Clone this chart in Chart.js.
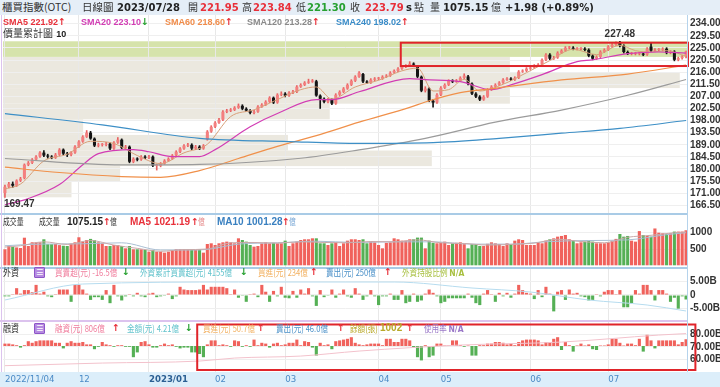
<!DOCTYPE html>
<html><head><meta charset="utf-8">
<script src="https://cdn.jsdelivr.net/npm/chart.js@4.4.0/dist/chart.umd.min.js"></script>
<style>
html,body{margin:0;padding:0;background:#fff}
body{width:720px;height:387px;overflow:hidden;position:relative;font-family:"DejaVu Sans",sans-serif;color:#333}
canvas{position:absolute;left:0;z-index:1}
.t{position:absolute;white-space:nowrap;line-height:12px;font-size:10px;z-index:5}
.cjk{font-family:"Noto Sans CJK TC","Noto Sans CJK SC",sans-serif}
.sx{transform:scaleX(.8);transform-origin:0 0}
.sx7{transform:scaleX(.72);transform-origin:0 0}
.b{font-weight:bold}
.n{font-family:"DejaVu Sans",sans-serif;font-weight:bold}
.s{font-family:"Liberation Sans",Arial,sans-serif;font-weight:bold;font-size:9px}
.L{font-family:"Liberation Sans",Arial,sans-serif;font-weight:bold;font-size:10px}
.A{font-family:"DejaVu Sans",sans-serif;font-weight:bold;font-size:9.5px}
.red{color:#e8303a}.grn{color:#27a030}
.icon{position:absolute;z-index:5;width:9px;height:9px;background:#b58ae0;border:1px solid #8d55c8;color:#fff;font-size:8px;line-height:9px;text-align:center;border-radius:1px}
.line{position:absolute;z-index:4}
</style></head><body>
<div class="line" style="left:0;top:0;width:720px;height:15px;background:#e5eef7;z-index:0"></div>
<div class="t cjk" style="left:2px;top:1px;font-size:10.5px">櫃買指數(OTC)</div>
<div class="t cjk" style="left:82px;top:1px;font-size:10.5px">日線圖</div>
<div class="t n" style="left:117px;top:2px;color:#222">2023/07/28</div>
<div class="t cjk" style="left:188px;top:1px">開</div>
<div class="t n red" style="left:200px;top:2px">221.95</div>
<div class="t cjk" style="left:242px;top:1px">高</div>
<div class="t n red" style="left:253px;top:2px">223.84</div>
<div class="t cjk" style="left:296px;top:1px">低</div>
<div class="t n grn" style="left:307px;top:2px">221.30</div>
<div class="t cjk" style="left:350px;top:1px">收</div>
<div class="t n red" style="left:365px;top:2px">223.79</div>
<div class="t n" style="left:406px;top:2px;color:#222">s</div>
<div class="t cjk" style="left:414px;top:1px">點</div>
<div class="t cjk" style="left:430px;top:1px">量</div>
<div class="t n" style="left:443px;top:2px;color:#222">1075.15</div>
<div class="t cjk" style="left:491px;top:1px">億</div>
<div class="t n" style="left:505px;top:2px;color:#222">+1.98 (+0.89%)</div>

<div class="t s" style="left:3px;top:16px;color:#e8303a">SMA5 221.92<span class="A red">↑</span></div>
<div class="t s" style="left:81px;top:16px;color:#d23cb4">SMA20 223.10<span class="A grn">↓</span></div>
<div class="t s" style="left:165px;top:16px;color:#f08c4a">SMA60 218.60<span class="A red">↑</span></div>
<div class="t s" style="left:247px;top:16px;color:#8a8a8a">SMA120 213.28<span class="A red">↑</span></div>
<div class="t s" style="left:336px;top:16px;color:#3a8cc8">SMA240 198.02<span class="A red">↑</span></div>
<div class="t" style="left:3px;top:27px"><span class="cjk">價量累計圖</span> <span class="s" style="color:#222">10</span></div>

<canvas id="cPrice" width="720" height="198" style="top:15px"></canvas>
<canvas id="cVol" width="720" height="52" style="top:215px"></canvas>
<canvas id="cFor" width="720" height="51" style="top:269px"></canvas>
<canvas id="cMar" width="720" height="65" style="top:322px"></canvas>

<div class="line" style="left:0;top:213px;width:688px;height:2px;background:#a9cbe6"></div>
<div class="line" style="left:0;top:267px;width:688px;height:2px;background:#a9cbe6"></div>
<div class="line" style="left:0;top:320px;width:688px;height:2px;background:#dcc3ee"></div>
<div class="line" style="left:687px;top:15px;width:1px;height:357px;background:#b5d3ec"></div>
<div class="line" style="left:1px;top:15px;width:1px;height:357px;background:#dcc3ee"></div>

<div class="t cjk sx7" style="left:3px;top:215px;font-size:9.5px">成交量</div>
<div class="t cjk sx7" style="left:39px;top:215px;font-size:9.5px">成交量</div>
<div class="t L" style="left:67px;top:216px;color:#222">1075.15</div>
<div class="t A red" style="left:103px;top:216px">↑</div>
<div class="t cjk sx7" style="left:110px;top:215px;font-size:9.5px">億</div>
<div class="t L" style="left:130px;top:216px;color:#e8303a">MA5 1021.19</div>
<div class="t A red" style="left:191px;top:216px">↑</div>
<div class="t cjk sx7" style="left:198px;top:215px;font-size:9.5px;color:#e58a8a">億</div>
<div class="t L" style="left:217px;top:216px;color:#3a80c0">MA10 1001.28</div>
<div class="t A red" style="left:282px;top:216px">↑</div>
<div class="t cjk sx7" style="left:289px;top:215px;font-size:9.5px;color:#7aa8d6">億</div>

<div class="t cjk sx" style="left:3px;top:266px;font-size:10px">外資</div>
<div class="icon" style="left:34px;top:267px">☰</div>
<div class="t cjk sx" style="left:55px;top:266px;color:#f07c9c;font-size:9.5px">買賣超(元) -16.5億</div>
<div class="t A grn" style="left:122px;top:266px">↓</div>
<div class="t cjk sx" style="left:140px;top:266px;color:#62c3cc;font-size:9.5px">外資累計買賣超(元) 4155億</div>
<div class="t A grn" style="left:240px;top:266px">↓</div>
<div class="t cjk sx" style="left:258px;top:266px;color:#f2b060;font-size:9.5px">買進(元) 234億</div>
<div class="t A red" style="left:310px;top:266px">↑</div>
<div class="t cjk sx" style="left:326px;top:266px;color:#4a90c8;font-size:9.5px">賣出(元) 250億</div>
<div class="t A red" style="left:384px;top:266px">↑</div>
<div class="t cjk sx" style="left:402px;top:266px;color:#a8c040;font-size:9.5px">外資持股比例 <span class="n">N/A</span></div>

<div class="t cjk sx" style="left:3px;top:322px;font-size:10px">融資</div>
<div class="icon" style="left:34px;top:323px">☰</div>
<div class="t cjk sx" style="left:55px;top:322px;color:#f07c9c;font-size:9.5px">融資(元) 806億</div>
<div class="t A red" style="left:112px;top:322px">↑</div>
<div class="t cjk sx" style="left:127px;top:322px;color:#62c3cc;font-size:9.5px">金額(元) 4.21億</div>
<div class="t A grn" style="left:185px;top:322px">↓</div>
<div class="t cjk sx" style="left:203px;top:322px;color:#f2b060;font-size:9.5px">買進(元) 50.7億</div>
<div class="t A red" style="left:257px;top:322px">↑</div>
<div class="t cjk sx" style="left:276px;top:322px;color:#4a90c8;font-size:9.5px">賣出(元) 46.0億</div>
<div class="t A red" style="left:337px;top:322px">↑</div>
<div class="t cjk sx" style="left:350px;top:322px;color:#b8a828;font-size:9.5px">餘額(張)</div>
<div class="t L" style="left:380px;top:322px;color:#b8a828">1002</div>
<div class="t A red" style="left:406px;top:322px">↑</div>
<div class="t cjk sx" style="left:424px;top:322px;color:#9a78c8;font-size:9.5px">使用率 <span class="n">N/A</span></div>

<script>
// ---------- DATA ----------
const opens = [171.0,173.4,174.5,173.8,175.7,176.6,181.6,182.3,183.5,184.6,
186.1,185.0,184.6,184.2,185.3,187.2,185.7,185.3,186.1,188.3,
190.2,192.0,193.5,191.3,188.7,189.0,189.0,189.4,187.6,189.8,
190.9,187.9,188.3,182.7,183.8,183.5,184.6,184.2,184.6,181.2,
181.2,182.0,183.1,183.8,185.0,186.4,187.6,188.7,189.0,187.6,
188.3,187.6,191.0,193.9,195.7,197.2,198.3,201.3,201.7,202.0,
202.8,203.5,202.4,201.7,200.9,201.3,203.2,203.9,205.0,206.5,
204.7,207.6,208.0,207.3,208.4,208.7,210.6,211.3,212.1,212.5,
212.6,207.3,206.1,205.0,205.8,204.3,207.6,208.7,209.9,211.3,
212.8,214.3,215.3,212.5,212.1,213.2,213.6,213.6,214.3,214.7,
215.8,216.5,217.3,218.0,218.4,219.1,218.0,214.3,209.1,209.9,
205.4,204.7,207.6,210.2,211.3,212.8,212.5,212.8,213.9,214.4,
211.7,208.0,206.9,205.8,206.9,209.5,210.6,211.3,212.1,213.2,
213.6,213.2,213.9,216.2,216.5,217.3,217.7,218.4,218.8,220.6,
222.5,221.0,221.4,223.2,224.0,225.1,225.1,224.7,224.7,224.7,
224.3,222.1,221.0,221.7,223.6,224.3,225.5,226.2,227.1,225.8,
223.5,222.9,222.9,222.9,222.9,222.5,225.5,224.0,224.3,224.3,
224.7,223.2,223.6,220.6,221.2,221.95];
const highs = [174.0,175.0,175.2,176.0,176.9,181.9,182.8,183.9,185.0,186.5,
186.8,185.5,185.0,185.8,187.6,187.5,186.2,186.5,188.7,190.6,
192.4,194.3,194.0,191.6,189.6,189.5,189.9,189.8,190.2,191.7,
191.2,188.8,188.6,184.2,184.2,185.0,185.0,185.1,184.9,181.8,
182.4,183.5,184.2,185.4,186.8,188.0,189.1,189.5,189.4,188.8,
188.7,189.1,194.3,196.1,197.6,198.8,201.7,202.2,202.5,203.2,
204.2,203.9,202.8,202.1,201.8,203.6,204.3,205.4,206.9,206.8,
208.0,208.7,208.4,208.8,209.2,211.0,211.7,212.5,213.4,213.3,
213.0,207.6,206.5,206.3,206.1,208.0,209.1,210.3,211.7,213.2,
214.7,216.2,215.6,212.9,213.6,214.0,214.1,214.7,215.1,216.2,
216.9,217.7,218.4,218.8,219.9,219.5,218.4,214.6,210.6,210.2,
205.8,208.0,210.6,211.7,213.2,213.2,213.3,214.3,215.4,214.8,
212.0,208.4,207.3,207.3,209.9,211.0,211.7,212.5,213.6,214.0,
214.0,214.3,216.6,216.9,217.7,218.1,218.8,219.2,221.0,222.9,
222.9,221.9,223.6,224.4,225.5,225.6,225.5,225.1,225.1,225.1,
224.7,222.5,222.1,224.0,224.7,225.9,226.6,227.3,227.48,226.2,
223.9,223.4,223.4,223.4,223.3,225.1,226.9,224.8,224.8,225.1,
225.1,224.0,224.0,221.6,222.2,223.84];
const lows = [169.47,173.0,173.2,173.5,175.3,176.3,181.2,182.0,183.2,184.3,
184.6,184.0,183.8,183.9,185.0,185.3,184.6,184.9,185.8,188.0,
189.9,191.7,191.0,188.3,188.2,188.5,188.6,187.2,187.3,189.5,
187.5,187.4,182.3,182.3,183.0,183.2,183.8,183.8,180.9,179.6,
180.8,181.7,182.8,183.5,184.7,186.1,187.3,188.3,187.2,187.2,
187.2,187.3,190.7,193.6,195.4,196.9,198.0,200.9,201.3,201.7,
202.5,202.0,201.3,200.5,200.5,201.0,202.9,203.6,204.7,204.3,
204.4,207.2,206.8,207.0,208.0,208.4,210.3,211.0,211.8,212.2,
207.0,202.5,204.6,204.6,203.9,204.0,207.3,208.4,209.6,211.0,
212.5,214.0,212.1,211.7,211.8,212.8,213.1,213.3,214.0,214.4,
215.5,216.2,217.0,217.7,218.1,218.4,213.9,208.7,208.6,205.0,
203.0,204.4,207.3,209.9,211.0,212.1,212.2,212.5,213.6,211.3,
207.6,206.5,205.4,205.5,206.6,209.2,210.3,211.0,211.8,212.9,
212.8,212.9,213.6,215.9,216.2,217.0,217.4,218.1,218.5,220.3,
220.6,220.7,221.1,222.9,223.7,224.7,224.3,224.3,224.3,223.9,
221.7,220.6,220.7,221.4,223.3,224.0,225.2,225.9,225.4,223.1,
222.5,222.4,222.4,222.4,222.1,222.2,223.6,223.6,223.9,223.9,
222.8,222.8,220.2,220.2,220.8,221.30];
const closes = [173.4,174.5,173.8,175.7,176.4,181.6,182.3,183.5,184.6,186.1,
185.0,184.6,184.2,185.3,187.2,185.7,185.3,186.1,188.3,190.2,
192.0,193.5,191.3,188.7,189.0,189.0,189.4,187.6,189.8,190.9,
187.9,188.3,182.7,183.8,183.5,184.6,184.2,184.6,181.2,181.2,
182.0,183.1,183.8,185.0,186.4,187.6,188.7,189.0,187.6,188.3,
187.6,188.7,193.9,195.7,197.2,198.3,201.3,201.7,202.0,202.8,
203.5,202.4,201.7,200.9,201.3,203.2,203.9,205.0,206.5,204.7,
207.6,208.0,207.3,208.4,208.7,210.6,211.3,212.1,212.5,212.8,
207.3,206.1,205.0,205.8,204.3,207.6,208.7,209.9,211.3,212.8,
214.3,215.8,212.5,212.1,213.2,213.6,213.6,214.3,214.7,215.8,
216.5,217.3,218.0,218.4,219.1,218.8,214.3,209.1,209.9,205.4,
204.7,207.6,210.2,211.3,212.8,212.5,212.8,213.9,214.7,211.7,
208.0,206.9,205.8,206.9,209.5,210.6,211.3,212.1,213.2,213.6,
213.2,213.9,216.2,216.5,217.3,217.7,218.4,218.8,220.6,222.5,
221.0,221.4,223.2,224.0,225.1,225.1,224.7,224.7,224.7,224.3,
222.1,221.0,221.7,223.6,224.3,225.5,226.2,226.9,225.8,223.5,
222.9,222.9,222.9,222.9,222.5,224.7,224.0,224.3,224.3,224.7,
223.2,223.6,220.6,221.2,221.81,223.79];

// moving averages: [bar index, value]
const sma5 = [[0,172.6],[4,174.4],[10,183.0],[16,185.5],[22,190.3],[28,189.5],[34,185.0],[40,182.0],[46,186.0],[52,189.2],[58,199.5],[64,202.0],[70,205.8],[76,209.5],[80,210.5],[84,206.0],[90,210.5],[96,213.0],[102,216.5],[106,217.5],[110,209.0],[114,209.5],[118,213.3],[122,209.0],[128,211.5],[134,215.8],[140,220.3],[146,224.5],[152,222.5],[158,226.0],[162,224.0],[166,223.5],[170,224.0],[175,221.92]];
const sma20 = [[0,166.7],[6,169.0],[14,174.2],[20,181.6],[24,185.7],[33,187.2],[37,186.4],[43,184.6],[50,184.6],[54,187.2],[63,195.7],[71,201.3],[80,205.8],[84,205.8],[91,208.7],[104,213.6],[108,213.2],[117,212.5],[125,209.5],[130,211.3],[138,215.1],[147,219.9],[151,220.6],[160,222.9],[168,223.5],[175,223.10]];
const sma60 = [[0,180.7],[14,178.7],[30,177.2],[40,176.9],[50,179.4],[60,183.9],[70,188.4],[80,192.4],[91,197.4],[104,202.9],[108,204.9],[117,208.4],[126,210.0],[143,213.1],[160,215.3],[175,218.60]];
const sma120 = [[0,183.9],[30,181.5],[50,181.7],[76,184.0],[91,187.1],[108,191.4],[126,197.4],[143,201.9],[160,207.4],[175,213.28]];
const sma240 = [[0,200.6],[25,196.4],[50,191.4],[73,190.2],[91,189.5],[110,189.8],[127,191.4],[143,193.3],[158,195.1],[175,198.02]];

// price-volume profile (10 bins between the period low and high), relative volume
const profileEdges = [169.47,175.27,181.07,186.87,192.67,198.47,204.28,210.08,215.88,221.68,227.48];
const profileVol = [0.10,0.171,0.626,0.416,0.117,0.477,0.74,0.988,0.74,1.0];

// volume (億)
const volume = [491,592,570,549,530,847,592,706,706,706,
798,650,650,654,620,600,593,665,705,860,
730,776,810,770,705,675,593,593,623,623,
593,521,593,491,491,491,470,419,470,419,
419,388,419,470,491,491,491,491,491,470,
491,388,654,675,623,675,705,726,705,675,
828,777,726,623,572,593,675,705,675,690,
675,675,756,593,675,726,777,798,798,828,
828,675,675,623,675,705,593,675,756,798,
798,777,798,675,726,705,623,521,690,705,
828,798,756,756,798,798,850,850,521,756,
690,675,690,726,623,675,690,705,650,521,
654,654,593,593,660,705,675,654,593,675,
654,756,798,777,623,623,623,705,675,756,
798,828,879,900,930,798,756,675,705,726,
756,726,675,675,675,705,756,810,960,879,
900,756,726,1050,930,900,879,1130,1000,982,
960,982,1034,1034,1034,1075.15];
const volMa5 = [[0,560],[4,600],[10,720],[16,640],[22,760],[28,620],[34,520],[40,430],[46,480],[52,500],[58,690],[64,700],[70,680],[76,720],[82,700],[88,690],[94,730],[100,720],[106,780],[112,690],[118,670],[124,620],[130,640],[136,680],[142,800],[148,730],[154,690],[160,860],[166,920],[172,1000],[175,1021.19]];
const volMa10 = [[0,600],[9,650],[20,660],[30,690],[40,470],[50,470],[60,650],[70,690],[80,740],[90,700],[100,720],[110,720],[120,650],[130,650],[140,730],[150,760],[160,780],[170,940],[175,1001.28]];

// foreign investors net buy/sell (億)
const foreignNet = [-5,-5,3,25,5,18,18,10,37,5,
12,-5,-8,3,20,20,20,-25,37,37,
20,5,-18,-8,-8,-18,18,-30,37,-5,
-20,-5,3,-5,8,-5,-8,5,8,-8,
-5,-3,5,-15,-5,30,20,18,18,18,
20,37,20,30,30,30,30,25,3,20,
-10,-3,-25,3,5,-8,37,12,-25,15,
-5,30,-10,-12,15,-10,20,5,25,-5,
-40,18,-8,-3,20,-10,5,20,-5,-10,
25,5,-18,-5,18,-5,-37,-5,-5,5,
-18,-18,18,-30,-25,5,-25,-20,5,20,
8,-5,-30,-25,-12,-12,-12,-12,-12,5,
-10,-30,-37,5,18,3,-25,8,-5,8,
-10,5,37,18,8,5,-15,18,-8,30,
5,-60,12,18,-18,20,5,8,-5,-8,
-20,-18,3,-5,12,18,18,3,18,-45,
-45,-30,18,5,37,37,18,-20,18,18,
5,-25,-10,-50,-5,-16.5];
const foreignCum = [[0,4265],[20,4425],[60,4445],[100,4445],[120,4385],[135,4345],[150,4265],[165,4215],[175,4155]];

// margin: daily change (億) and balance (B)
const marginChg = [1.5,1.5,1,0.5,-1,0.5,3,2,3,3.5,
3.5,3.5,3.5,2,2,-1.5,2,3,2,2,
2.5,1,1,-2,-0.5,2.5,1,0.5,-0.5,0.5,
0.5,-0.5,-0.5,-7,-4,2.5,3,1,-1,-1,
0.5,1.5,0.5,1,-0.5,-1.5,-1,-1,-4,-4,
-5,-7,1,3.5,3.5,0.5,1,0.5,-0.5,3.5,
3,-0.5,0.5,-0.5,4,0.5,2,1.5,-1,1.5,
2,0.5,1,2,2,4,0.5,3,2.5,-1,
-6,2,0.5,1,-2,3,3.5,4,4.5,5.5,
2,1,0.5,1,1.5,1.5,1.5,0.5,4.5,4.5,
2.5,2.5,4.5,4.5,3.5,-1,-7,-9,0.5,-7,
-6,1.5,1.5,0.3,0.3,3.5,3.5,0.5,-0.5,0.3,
-6,-6,0.5,0.5,1.5,1.5,2.5,2.5,2,1,
1.5,0.5,2.5,3.5,4,4,4,3.5,1,2.5,
2.5,4.5,5.5,-2.5,2.5,0.5,-3.5,0.3,1.5,0.3,
1,-2,-2.5,0.3,0.3,1,4.5,4.5,2,0.3,
1.5,1.5,0.5,4.5,-3.5,7,3.5,-1.5,3.5,3.5,
3.5,3.5,3.5,1,2.5,4.21];
const marginBal = [[0,54.9],[25,57.0],[50,58.6],[59,61.0],[76,62.6],[91,66.6],[117,71.4],[143,73.8],[168,79.4],[175,80.6]];

// axes
const priceTicks = [166.5,171,175.5,180,184.5,189,193.5,198,202.5,207,211.5,216,220.5,225,229.5,234];
const volTicks = [500,1000];
const foreignTicks = [-50,0,50];
const foreignTickLabels = ['-5.00B','0','5.00B'];
const marginTicks = [60,70,80];
const monthTicks = [0,19,37,54,72,96,112,135,155];
const monthLabels = ['2022/11/04','12','2023/01','02','03','04','05','06','07'];

// ---------- CHARTS ----------
const N = closes.length;
const UP='#f47f7f', DOWN='#141414', VUP='#f0625c', VDN='#55b055';
const AXFONT = {family:'"Liberation Sans", Arial, sans-serif', size:10, weight:'bold'};
const labelOf = c => (c && c.tick) ? monthLabels[monthTicks.indexOf(c.tick.value)] : '';

function xAxis(showLabels){
  const ax = {
    type:'linear', min:-0.5, max:N-0.5, offset:false,
    afterBuildTicks: s => { s.ticks = monthTicks.map(v=>({value:v})); },
    afterFit: s => { s.height = showLabels ? 15 : 0; s.paddingLeft=0; s.paddingRight=0; },
    grid:{color:'#e8e8e8', drawTicks:false, offset:false},
    border:{display:false},
    ticks:{display:false}
  };
  if (showLabels){
    ax.ticks = {display:true, autoSkip:false, maxRotation:0, minRotation:0, align:'start', padding:3,
      color: c => labelOf(c)==='2023/01' ? '#2b5f93' : '#4a8ac6',
      font: c => ({family:'"DejaVu Sans", sans-serif', size:8.6, weight: labelOf(c)==='2023/01' ? 'bold':'normal'}),
      callback: v => monthLabels[monthTicks.indexOf(v)]};
  }
  return ax;
}
function yAxis(min,max,ticks,fmt){
  return {
    position:'right', min, max,
    afterBuildTicks: s => { s.ticks = ticks.map(v=>({value:v})); },
    afterFit: s => { s.width = 32; s.paddingTop=0; s.paddingBottom=0; },
    grid:{color:'#efefef', drawTicks:false},
    border:{display:false},
    ticks:{padding:2, autoSkip:false, color:'#333', font:AXFONT, callback:fmt}
  };
}
function hiddenAxis(min,max){
  return {display:false, min, max, position:'left'};
}
const common = {
  responsive:false, animation:false, events:[],
  layout:{padding:{left:3,right:0,top:0,bottom:0}},
  plugins:{legend:{display:false}, tooltip:{enabled:false}}
};
const pts = arr => arr.map(p=>({x:p[0], y:p[1]}));
function maLine(arr,color,w,axis){
  return {type:'line', data:pts(arr), borderColor:color, borderWidth:w||1, pointRadius:0,
    cubicInterpolationMode:'monotone', fill:false, order:0, yAxisID:axis||'y'};
}

// price
const pricePlugin = {
  id:'pricePlugin',
  beforeDraw(chart){
    const {ctx, chartArea:a, scales:{x,y}} = chart;
    const last = closes[N-1];
    ctx.save();
    for (let b=0;b<profileVol.length;b++){
      const lo=profileEdges[b], hi=profileEdges[b+1];
      const y1=y.getPixelForValue(hi), y2=y.getPixelForValue(lo);
      const x2=x.getPixelForValue(-0.5 + profileVol[b]*N);
      ctx.fillStyle = (last>=lo && last<=hi) ? '#d6e3ab' : '#ebe8df';
      ctx.fillRect(a.left, y1, x2-a.left, y2-y1);
    }
    ctx.restore();
  },
  afterDraw(chart){
    const {ctx, scales:{x,y}} = chart;
    ctx.save();
    let hi=0, lo=0;
    for (let i=1;i<N;i++){ if (highs[i]>highs[hi]) hi=i; if (lows[i]<lows[lo]) lo=i; }
    ctx.font = 'bold 10px "Liberation Sans", Arial, sans-serif';
    ctx.fillStyle = '#333';
    ctx.textAlign='center'; ctx.textBaseline='bottom';
    ctx.fillText(highs[hi].toFixed(2), x.getPixelForValue(hi), y.getPixelForValue(highs[hi])-2);
    ctx.textAlign='left'; ctx.textBaseline='top';
    ctx.fillText(lows[lo].toFixed(2), x.getPixelForValue(lo)-1, y.getPixelForValue(lows[lo])+2);
    ctx.strokeStyle='#e0242a'; ctx.lineWidth=2;
    const bx1=x.getPixelForValue(101.7), bx2=x.getPixelForValue(N-0.5);
    const by1=y.getPixelForValue(226.95), by2=y.getPixelForValue(218.28);
    ctx.strokeRect(bx1, by1, bx2-bx1, by2-by1);
    ctx.restore();
  }
};
new Chart(document.getElementById('cPrice'), {
  type:'bar',
  data:{datasets:[
    maLine(sma240,'#3d8fc6',1.2),
    maLine(sma120,'#9b9b9b',1.2),
    maLine(sma60,'#f0904a',1.2),
    maLine(sma20,'#d23cb4',1.2),
    maLine(sma5,'#d9a07a',1),
    {type:'bar', data:closes.map((c,i)=>({x:i, y:[lows[i], highs[i]]})), grouped:false,
      barThickness:1, order:3,
      backgroundColor: closes.map((c,i)=> c>=opens[i] ? '#e86060' : DOWN)},
    {type:'bar', data:closes.map((c,i)=>({x:i, y:[opens[i], c]})), grouped:false,
      barPercentage:0.78, categoryPercentage:1, minBarLength:1, order:2,
      backgroundColor: closes.map((c,i)=> c>=opens[i] ? UP : DOWN)}
  ]},
  options:Object.assign({}, common, {
    scales:{ x:xAxis(false), y:yAxis(163.64,237.25,priceTicks,v=>v.toFixed(2)) }
  }),
  plugins:[pricePlugin]
});

// volume
new Chart(document.getElementById('cVol'), {
  type:'bar',
  data:{datasets:[
    maLine(volMa5,'#c9a9a9',1),
    maLine(volMa10,'#a9bfd3',1),
    {type:'bar', data:volume.map((v,i)=>({x:i,y:v})), grouped:false, barPercentage:0.8, categoryPercentage:1, order:2,
      backgroundColor: volume.map((v,i)=> (i===0 ? closes[i]>=opens[i] : closes[i]>=closes[i-1]) ? VUP : VDN)}
  ]},
  options:Object.assign({}, common, {
    scales:{ x:xAxis(false), y:yAxis(-52,1543,volTicks,v=>String(v)) }
  })
});

// foreign
new Chart(document.getElementById('cFor'), {
  type:'bar',
  data:{datasets:[
    maLine(foreignCum,'#b6dcef',1,'yc'),
    {type:'bar', data:foreignNet.map((v,i)=>({x:i,y:v})), grouped:false, barPercentage:0.8, categoryPercentage:1, order:2,
      backgroundColor: foreignNet.map(v=> v>=0 ? VUP : VDN)}
  ]},
  options:Object.assign({}, common, {
    scales:{ x:xAxis(false),
      y:yAxis(-91.6,95.2,foreignTicks,v=>foreignTickLabels[foreignTicks.indexOf(v)]),
      yc:hiddenAxis(4065,4575) }
  })
});

// margin
const marginPlugin = {
  id:'marginPlugin',
  beforeDraw(chart){
    const {ctx, chartArea:a} = chart;
    ctx.save(); ctx.fillStyle='#dceefa';
    ctx.fillRect(0, a.bottom, chart.width, chart.height-a.bottom);
    ctx.restore();
  },
  afterDraw(chart){
    const {ctx, scales:{x,y}} = chart;
    ctx.save(); ctx.strokeStyle='#e0242a'; ctx.lineWidth=2;
    const bx1=x.getPixelForValue(49.4), bx2=x.getPixelForValue(177.4);
    const by1=y.getPixelForValue(87.84), by2=y.getPixelForValue(51.44);
    ctx.strokeRect(bx1, by1, bx2-bx1, by2-by1);
    ctx.restore();
  }
};
new Chart(document.getElementById('cMar'), {
  type:'bar',
  data:{datasets:[
    maLine(marginBal,'#f3c2cc',1,'y'),
    {type:'bar', data:marginChg.map((v,i)=>({x:i,y:v})), grouped:false, barPercentage:0.8, categoryPercentage:1, order:2,
      yAxisID:'yb', backgroundColor: marginChg.map(v=> v>=0 ? VUP : VDN)}
  ]},
  options:Object.assign({}, common, {
    scales:{ x:xAxis(true),
      y:yAxis(49.84,89.84,marginTicks,v=>v.toFixed(2)+'B'),
      yb:hiddenAxis(-16.25,15) }
  }),
  plugins:[marginPlugin]
});
</script>
</body></html>
